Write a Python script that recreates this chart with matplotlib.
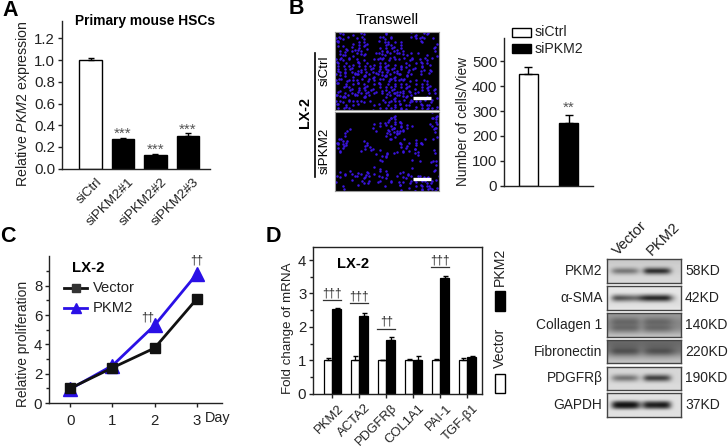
import numpy as np
import matplotlib
matplotlib.use("Agg")
import matplotlib.pyplot as plt
from matplotlib.patches import Rectangle
from matplotlib.transforms import ScaledTranslation

plt.rcParams['font.family'] = ['Liberation Sans', 'DejaVu Sans']
plt.rcParams['mathtext.fontset'] = 'custom'
plt.rcParams['mathtext.rm'] = 'Liberation Sans'
plt.rcParams['mathtext.it'] = 'Liberation Sans:italic'
plt.rcParams['axes.linewidth'] = 1.0

W, H = 728, 448
FS = 10.8
INK = '#222222'

# Panel A
a_labels = ['siCtrl', 'siPKM2#1', 'siPKM2#2', 'siPKM2#3']
a_values = [1.0, 0.275, 0.13, 0.305]
a_err = [0.02, 0.008, 0.008, 0.022]
a_colors = ['white', 'black', 'black', 'black']
a_stars = ['', '***', '***', '***']
a_ticks = [0.0, 0.2, 0.4, 0.6, 0.8, 1.0, 1.2]

# Panel B
b_labels = ['siCtrl', 'siPKM2']
b_values = [447, 253]
b_err = [28, 29]
b_ticks = [0, 100, 200, 300, 400, 500]

# Panel C
c_days = [0, 1, 2, 3]
c_vector = [1.0, 2.4, 3.75, 7.1]
c_pkm2 = [0.95, 2.55, 5.3, 8.8]

# Panel D
d_genes = ['PKM2', 'ACTA2', 'PDGFRβ', 'COL1A1', 'PAI-1', 'TGF-β1']
d_vector = [1.0, 1.0, 1.0, 1.0, 1.0, 1.0]
d_vector_err = [0.06, 0.12, 0.02, 0.04, 0.05, 0.07]
d_pkm2 = [2.55, 2.33, 1.6, 1.0, 3.46, 1.11]
d_pkm2_err = [0.01, 0.1, 0.1, 0.14, 0.06, 0.02]
d_sig = ['†††', '†††', '††', '', '†††', '']
d_sig_y = [2.8, 2.7, 1.95, 0, 3.78, 0]

# Western blot panel
wb_names = ['PKM2', 'α-SMA', 'Collagen 1', 'Fibronectin', 'PDGFRβ', 'GAPDH']
wb_sizes = ['58KD', '42KD', '140KD', '220KD', '190KD', '37KD']
wb_bg = [
    [.78, .80, .82, .82, .82, .83, .84, .85, .85],
    [.90, .90, .90, .90, .90, .88, .87, .88, .90],
    [.60, .60, .58, .56, .56, .58, .62, .68, .76],
    [.42, .42, .44, .47, .50, .56, .64, .72, .76],
    [.84, .84, .84, .84, .84, .84, .85, .86, .86],
    [.88, .88, .88, .88, .88, .88, .88, .88, .88],
]
wb_band = [
    [0, 0, 0, .30, .80, .30, 0, 0, 0],
    [0, 0, 0, .40, .92, .40, 0, 0, 0],
    [0, .04, .14, .18, .12, .20, .14, .04, 0],
    [0, .02, .05, .10, .22, .16, .05, .02, 0],
    [0, 0, 0, .30, .72, .30, 0, 0, 0],
    [0, 0, 0, .65, 1.0, .65, 0, 0, 0],
]
wb_lanes = [
    [0, .5, .55, .55, .55, .45, 0, 1, 1, 1, 1, .9, 0, 0],
    [0, .75, .75, .7, .65, .6, .8, 1, 1, 1, 1, 1, .3, 0],
    [.2, 1, 1, 1, 1, .95, .1, .9, 1, 1, 1, .9, .4, .2],
    [.2, 1, 1, 1, 1, .9, .1, .7, 1, 1, 1, 1, .6, .2],
    [0, .55, .65, .65, .65, .5, 0, 1, 1, 1, 1, .9, 0, 0],
    [0, .9, 1, 1, 1, .9, .3, .85, .85, .85, .9, .85, 0, 0],
]
wb_rows_px = [(259, 283), (286.3, 310), (313, 336.7), (340, 363.3), (366.7, 390), (393.3, 416.7)]

# Nuclei seen in the Transwell fields, one character per 3 px
cells_sictrl = [
    "##.#.#.##.#.....#........##.###....",
    "###.#..#.#.....#.#.#.....#.####..#.",
    "##.#.....##...#.##.#.......###.....",
    "##...#.#.#.#....###.##......#....#.",
    ".#.#.#.#.##.....#.##.#...........#.",
    "....#.###..#...#.#.##.#..........#.",
    "..#.##.#.#.....###.#.#.#.........#.",
    ".#.#.#..##...#.#.##.#.#..#.#.....#.",
    "#.##.#.#.#....###.#.##..#.#.#.#.#..",
    ".###.#.#..#..#.##.#.#..#.##.#.##...",
    "##.#.#.##.#.#.#.#.##...#.#.##.#.#..",
    "#.#.##.#.#.##.####.#.##.#.#.##.....",
    "##.#.#.#.##.#.##.####.#..##.#.#.#..",
    "#.##.#.####.#.#.##.#.##.#....#..#..",
    ".#.#.###.#.##.###.##.#.#.#.....#...",
    "##.#.#.#.###.#.####.###.#..........",
    "#.#.#.##.#.#.##.#.###.##.#.#.#.#...",
    ".#.##.#.##.#.###.#.###.#.#.##.#.#..",
    "..#.#.#.###.#.#.#.##.#.##.#.#.##.#.",
    "#.#..#.##.#.##..##.###.#.#.#.#.#.#.",
    "##.#.#.#.###.#..#.####.#.##....#.#.",
    "###.#.##.#.#.....####.##.#.......#.",
    "#.##.#.#.##.#....#.###.#.##.#.#.#..",
    "##.#.##.#.#.....###.##.#.#.##.#.#..",
    ".#.##.#.#....#.#.#.##.###.#.#.##.#.",
    "#.#.#.#......##.#.#.###.#.#.#.###.#",
]
cells_sipkm2 = [
    "...................#............##.",
    "...................##...........#.#",
    "..................####...........##",
    "............#.#.##.####.........###",
    "............#.#.#.######.#......###",
    ".....#.......#....####.##........#.",
    "....#.............##.#.#.........#.",
    "...#.............#####...........#.",
    ".#.#.............###.............#.",
    "#.###.....#..........#.#...##.#....",
    "#####.....##.........##.#.####.....",
    ".###.....#.#.#.......#.##.##.......",
    "..#......##.#..#....#..#.#.#.....#.",
    "..#..............#.#...#..#......#.",
    "..............####.........#.......",
    "...............#.#..........#....#.",
    "...............#..........#.....#.#",
    "............#.....................#",
    "...............#.........#.......#.",
    "..#..#.#...#...#.#...#.#.........#.",
    ".#.#.#.#.#.#.#.#.#......#...#......",
    ".#.#..#..###...#.#..#.#.##.#.##...#",
    "#.....#..#.#..##.#.#.#.#.#.#.##.#.#",
    ".........###.......#.##..#.##.###..",
    "..#.....#.......#.....#..#.##.####.",
    "..#...................#...#####.###",
]


def px_axes(fig, x0, y0, x1, y1):
    return fig.add_axes([x0 / W, 1 - y1 / H, (x1 - x0) / W, (y1 - y0) / H])


def style(ax):
    for s in ('top', 'right'):
        ax.spines[s].set_visible(False)
    for s in ('left', 'bottom'):
        ax.spines[s].set_color(INK)
    ax.tick_params(colors=INK, labelsize=FS, width=1, length=3, pad=2)


def shift_xlabels(ax, fig, px):
    off = ScaledTranslation(px / 100, 0, fig.dpi_scale_trans)
    for t in ax.get_xticklabels():
        t.set_transform(t.get_transform() + off)


fig = plt.figure(figsize=(W / 100, H / 100), dpi=100)
pix = fig.add_axes([0, 0, 1, 1], zorder=5)
pix.set_xlim(0, W)
pix.set_ylim(H, 0)
pix.axis('off')


def label(x, y, s, **kw):
    kw.setdefault('fontsize', FS)
    kw.setdefault('color', INK)
    kw.setdefault('ha', 'center')
    kw.setdefault('va', 'center')
    pix.text(x, y, s, **kw)


# Panel letters
for x, y, s in [(10, 10, 'A'), (296, 9, 'B'), (8, 237, 'C'), (273, 236, 'D')]:
    label(x, y, s, fontsize=15.5, fontweight='bold', color='black')

# ---------- A
ax = px_axes(fig, 62, 21, 210, 168.7)
x = np.arange(len(a_labels))
ax.bar(x, a_values, width=0.68, color=a_colors, edgecolor='black', linewidth=1,
       yerr=[np.zeros(4), a_err], ecolor='black', error_kw=dict(capsize=2.5, lw=1))
for xi, v, e, st in zip(x, a_values, a_err, a_stars):
    if st:
        ax.text(xi, v + e + 0.035, st, ha='center', va='center', fontsize=11, color='#555555')
ax.set_xlim(-0.877, 3.677)
ax.set_ylim(0, 1.36)
ax.set_yticks(a_ticks, [f'{t:.1f}' for t in a_ticks])
ax.set_xticks(x, a_labels, rotation=45, ha='right', rotation_mode='anchor')
style(ax)
ax.tick_params(axis='x', length=0, pad=5, labelsize=9.7)
shift_xlabels(ax, fig, 5)
label(23, 104, r'Relative $\mathit{PKM2}$ expression', rotation=90, fontsize=10.2)
label(145, 21, 'Primary mouse HSCs', fontweight='bold', fontsize=9.9, color='black')

# ---------- B images
for (y0, y1, cells) in [(31.7, 110, cells_sictrl), (112.3, 191, cells_sipkm2)]:
    im = px_axes(fig, 334.7, y0, 439.3, y1)
    im.set_facecolor('black')
    pts = [(c + ((r * r * 3 + c * c * 5 + r * c) % 7 - 3) * 0.22,
            r + ((r * r * 5 + c * c * 2 + 3 * r * c + c) % 7 - 3) * 0.22)
           for r, row in enumerate(cells) for c, ch in enumerate(row) if ch == '#']
    xs, ys = zip(*pts)
    im.scatter(xs, ys, s=3.2, marker='o', color='#3a14e0', linewidths=0)
    im.set_xlim(-0.5, 34.5)
    im.set_ylim(25.5, -0.5)
    im.set_xticks([])
    im.set_yticks([])
    for s in im.spines.values():
        s.set_color('#999999')
        s.set_linewidth(0.8)
    pix.plot([412.7, 430.7], [y1 - 11.5, y1 - 11.5], color='white', lw=2.4, solid_capstyle='butt')

label(387, 20.5, 'Transwell', fontsize=10.6, color='black')
label(325, 71, 'siCtrl', rotation=90, fontsize=9.6, color='black')
label(325, 151, 'siPKM2', rotation=90, fontsize=9.6, color='black')
label(305, 112, 'LX-2', rotation=90, fontweight='bold', fontsize=10.3, color='black')
pix.plot([315, 315], [53, 177], color='black', lw=1.2)

# ---------- B bars
ax = px_axes(fig, 504.3, 38.3, 593, 185.7)
x = np.arange(2)
ax.bar(x, b_values, width=0.49, color=['white', 'black'], edgecolor='black', linewidth=1,
       yerr=[np.zeros(2), b_err], ecolor='black', error_kw=dict(capsize=3, lw=1))
ax.text(1, b_values[1] + b_err[1] + 30, '**', ha='center', va='center', fontsize=11, color='#555555')
ax.set_xlim(-0.603, 1.608)
ax.set_ylim(0, 592)
ax.set_xticks([])
ax.set_yticks(b_ticks)
style(ax)
label(463, 122, 'Number of cells/View', rotation=90, fontsize=9.9)
pix.add_patch(Rectangle((512.3, 27.7), 18.4, 9, fc='white', ec='black', lw=1))
pix.add_patch(Rectangle((512.3, 44), 18.4, 9, fc='black', ec='black', lw=1))
label(535, 32.5, b_labels[0], ha='left', fontsize=10.2)
label(535, 49, b_labels[1], ha='left', fontsize=10.2)

# ---------- C
ax = px_axes(fig, 49.3, 256, 221.7, 403)
ax.plot(c_days, c_pkm2, color='#2a10e6', lw=2, marker='^', ms=10.5, mec='#2a10e6', clip_on=False)
ax.plot(c_days, c_vector, color='#111111', lw=2, marker='s', ms=7.5, mec='#111111', clip_on=False)
ax.set_xlim(-0.494, 3.59)
ax.set_ylim(0, 10.03)
ax.set_xticks(c_days)
ax.set_yticks([0, 2, 4, 6, 8])
ax.set_yticks([1, 3, 5, 7, 9], minor=True)
style(ax)
ax.tick_params(axis='y', which='minor', length=2, width=1, color=INK)
ax.tick_params(axis='x', pad=5)
label(23, 344, 'Relative proliferation', rotation=90, fontsize=9.9)
label(218, 418, 'Day', fontsize=10.4)
label(88, 267.5, 'LX-2', fontweight='bold', fontsize=10.8, color='black')
pix.plot([64.3, 87.3], [288, 288], color='#111111', lw=2)
pix.plot([76], [288], marker='s', ms=5.5, color='#333333')
pix.plot([64.3, 87.3], [307.7, 307.7], color='#2a10e6', lw=2)
pix.plot([75.5], [307.7], marker='^', ms=7.5, color='#2a10e6')
label(93, 288, 'Vector', ha='left', fontsize=10.6)
label(93, 308, 'PKM2', ha='left', fontsize=10.6)
ax.text(3, c_pkm2[3] + 0.95, '††', ha='center', va='center', fontsize=8.5, color=INK)
ax.text(1.84, c_pkm2[2] + 0.55, '††', ha='center', va='center', fontsize=8.5, color=INK)

# ---------- D
ax = px_axes(fig, 313.3, 246.7, 481.7, 393.7)
x = np.arange(len(d_genes))
bw = 0.32
ax.bar(x - bw / 2, d_vector, bw, color='white', edgecolor='black', linewidth=0.9,
       yerr=[np.zeros(6), d_vector_err], ecolor='black', error_kw=dict(capsize=1.8, lw=0.9))
ax.bar(x + bw / 2, d_pkm2, bw, color='black', edgecolor='black', linewidth=0.9,
       yerr=[np.zeros(6), d_pkm2_err], ecolor='black', error_kw=dict(capsize=1.8, lw=0.9))
for xi, s, y in zip(x, d_sig, d_sig_y):
    if s:
        ax.plot([xi - 0.33, xi + 0.33], [y, y], color='#333333', lw=0.9)
        ax.text(xi, y + 0.2, s, ha='center', va='center', fontsize=8.5, color=INK)
ax.set_xlim(-0.7, 5.53)
ax.set_ylim(0, 4.4)
ax.set_xticks(x, d_genes, rotation=45, ha='right', rotation_mode='anchor')
ax.set_yticks([0, 1, 2, 3, 4])
ax.set_yticks([0.5, 1.5, 2.5, 3.5], minor=True)
for s in ax.spines.values():
    s.set_color(INK)
ax.tick_params(colors=INK, labelsize=FS, width=1, length=3, pad=2)
ax.tick_params(axis='y', which='minor', length=2, width=1, color=INK)
ax.tick_params(axis='x', labelsize=9.4, pad=3)
shift_xlabels(ax, fig, 5)
label(288, 328, 'Fold change of mRNA', rotation=90, fontsize=9.6)
label(352.7, 264.3, 'LX-2', fontweight='bold', fontsize=10.6, color='black')
pix.add_patch(Rectangle((495, 373.7), 10, 19.3, fc='white', ec='black', lw=1))
pix.add_patch(Rectangle((495, 291), 10, 19.7, fc='black', ec='black', lw=1))
label(500, 347.7, 'Vector', rotation=90, fontsize=10.2)
label(500, 266.7, 'PKM2', rotation=90, fontsize=10.2)

# ---------- Western blots
for (y0, y1), bg, band, lanes, name, size in zip(wb_rows_px, wb_bg, wb_band, wb_lanes, wb_names, wb_sizes):
    bl = px_axes(fig, 607, y0, 680.7, y1)
    img = np.array(bg)[:, None] - np.array(band)[:, None] * np.array(lanes)[None, :]
    bl.imshow(img, cmap='gray', vmin=0, vmax=1, aspect='auto', interpolation='bicubic')
    bl.set_xticks([])
    bl.set_yticks([])
    for s in bl.spines.values():
        s.set_color('#444444')
        s.set_linewidth(1)
    ym = (y0 + y1) / 2
    label(602.5, ym, name, ha='right', fontsize=9.9)
    label(685, ym, size, ha='left', fontsize=10)
pix.text(615, 253, 'Vector', rotation=45, ha='left', va='center', fontsize=10.6, color=INK, rotation_mode='anchor')
pix.text(649, 253, 'PKM2', rotation=45, ha='left', va='center', fontsize=10.6, color=INK, rotation_mode='anchor')

fig.savefig('out.png', dpi=100)
